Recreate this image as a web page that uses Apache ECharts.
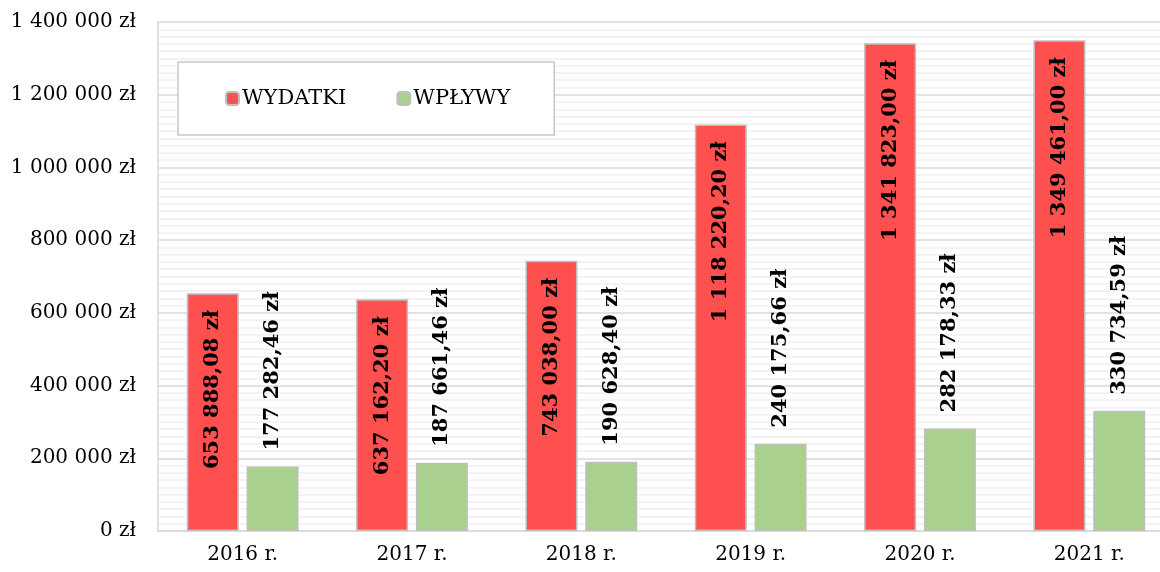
<!DOCTYPE html>
<html>
<head>
<meta charset="utf-8">
<script src="https://cdn.jsdelivr.net/npm/echarts@6/dist/echarts.min.js"></script>
<style>
  html, body { margin: 0; padding: 0; background: #fff; }
  #chart { width: 1160px; height: 572px; }
</style>
</head>
<body>
<div id="chart"></div>
<script>
// data
var years = ['2016 r.', '2017 r.', '2018 r.', '2019 r.', '2020 r.', '2021 r.'];
var wydatki = [653888.08, 637162.20, 743038.00, 1118220.20, 1341823.00, 1349461.00];
var wplywy = [177282.46, 187661.46, 190628.40, 240175.66, 282178.33, 330734.59];

var font = 'DejaVu Serif';

function groupThousands(s) {
    return s.replace(/\B(?=(\d{3})+(?!\d))/g, ' ');
}
function money(v) {
    var parts = v.toFixed(2).split('.');
    return groupThousands(parts[0]) + ',' + parts[1] + ' zł';
}
function axisMoney(v) {
    return groupThousands(String(Math.round(v))) + ' zł';
}

var myChart = echarts.init(document.getElementById('chart'));
var option = {
    backgroundColor: '#fff',
    animation: false,
    textStyle: { fontFamily: font },
    grid: { left: 158, width: 1016, top: 22, height: 509, outerBoundsMode: 'none', containLabel: false },
    legend: {
        left: 178,
        top: 62,
        padding: [26, 44, 26, 47],
        itemGap: 50,
        itemWidth: 13,
        itemHeight: 13,
        backgroundColor: '#fff',
        borderColor: '#c8c8c8',
        borderWidth: 1.5,
        textStyle: { fontFamily: font, fontSize: 21, color: '#000', padding: [0, 0, 0, -2] },
        data: ['WYDATKI', 'WPŁYWY']
    },
    xAxis: {
        type: 'category',
        data: years,
        axisLine: { lineStyle: { color: '#d9d9d9', width: 1.5 } },
        axisTick: { show: false },
        axisLabel: { fontFamily: font, fontSize: 20, color: '#000', margin: 14 }
    },
    yAxis: {
        type: 'value',
        min: 0,
        max: 1400000,
        interval: 200000,
        axisLine: { show: true, lineStyle: { color: '#d9d9d9', width: 1.5 } },
        axisTick: { show: false },
        axisLabel: { fontFamily: font, fontSize: 20, color: '#000', margin: 22, formatter: axisMoney },
        splitLine: { lineStyle: { color: '#d9d9d9', width: 1.5 } },
        minorTick: { show: false, splitNumber: 10 },
        minorSplitLine: { show: true, lineStyle: { color: '#efefef', width: 1.5 } }
    },
    series: [{
        name: 'WYDATKI',
        type: 'bar',
        data: wydatki,
        barWidth: 52,
        barGap: '15%',
        itemStyle: { color: '#ff5050', borderColor: '#bfbfbf', borderWidth: 1.5 },
        label: {
            show: true,
            position: 'insideTop',
            rotate: 90,
            align: 'right',
            verticalAlign: 'middle',
            distance: 17,
            fontFamily: font,
            fontWeight: 'bold',
            fontSize: 21,
            color: '#000',
            formatter: function (p) { return money(p.value); }
        }
    }, {
        name: 'WPŁYWY',
        type: 'bar',
        data: wplywy,
        barWidth: 52,
        itemStyle: { color: '#a9d08e', borderColor: '#bfbfbf', borderWidth: 1.5 },
        label: {
            show: true,
            position: 'top',
            rotate: 90,
            align: 'left',
            verticalAlign: 'middle',
            distance: 16,
            fontFamily: font,
            fontWeight: 'bold',
            fontSize: 21,
            color: '#000',
            formatter: function (p) { return money(p.value); }
        }
    }]
};
myChart.setOption(option, true);
</script>
</body>
</html>
